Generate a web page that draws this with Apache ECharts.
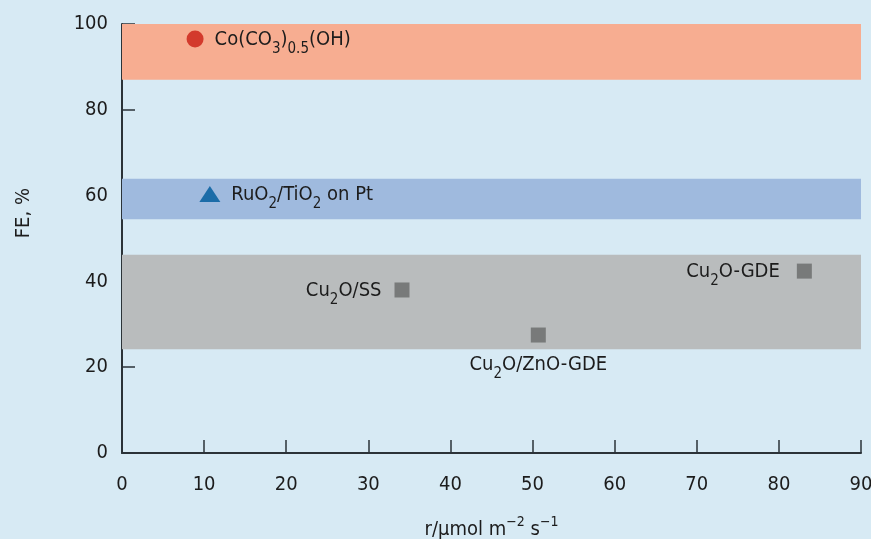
<!DOCTYPE html>
<html>
<head>
<meta charset="utf-8">
<script src="https://cdn.jsdelivr.net/npm/echarts@6/dist/echarts.min.js"></script>
<style>
html, body { margin: 0; padding: 0; background: #d7eaf4; }
#chart { width: 871px; height: 539px; }
</style>
</head>
<body>
<div id="chart"></div>
<script>
// catalyst points: rate r (umol m-2 s-1) vs faradaic efficiency FE (%)
const circleLabels = ['{n|Co(CO}{s|3}{n|)}{s|0.5}{n|(OH)}']
const circleRate = [8.9]
const circleFE = [96.5]

const triangleLabels = ['{n|RuO}{s|2}{n|/TiO}{s|2}{n| on Pt}']
const triangleRate = [10.7]
const triangleFE = [60.4]

const squareLabels = ['{n|Cu}{s|2}{n|O/SS}', '{n|Cu}{s|2}{n|O/ZnO-GDE}', '{n|Cu}{s|2}{n|O-GDE}']
const squareRate = [34.1, 50.7, 83.1]
const squareFE = [38.0, 27.5, 42.4]

// FE ranges shaded behind the points [from, to]
const bandOrange = [87, 100]
const bandBlue = [54.5, 63.9]
const bandGray = [24.2, 46.2]

const xTicks = [0, 90, 10]   // min, max, step
const yTicks = [0, 100, 20]

const FONT = '"DejaVu Sans Condensed", "DejaVu Sans", sans-serif'
const TXT = '#1c1c1c'

// tall line box so the small bottom-aligned pieces drop below the baseline
const rich = {
    n: { fontSize: 20, lineHeight: 34, color: TXT, fontFamily: FONT },
    s: { fontSize: 15, verticalAlign: 'bottom', color: TXT, fontFamily: FONT }
}

// label placement per square point
const squareLabelOpts = [
    { position: 'left', distance: 13, offset: [0, 1] },
    { position: 'bottom', distance: 5 },
    { position: 'left', distance: 17, offset: [0, 1] }
]

function points(rate, fe, labels, opts) {
    return rate.map(function(r, i) {
        const o = opts ? opts[i] : {}
        return {
            value: [r, fe[i]],
            label: Object.assign({ show: true, formatter: labels[i], rich: rich }, o)
        }
    })
}

const chart = echarts.init(document.getElementById('chart'))

chart.setOption({
    backgroundColor: '#d7eaf4',
    animation: false,
    grid: { left: 122, right: 10, top: 24, bottom: 86, outerBoundsMode: 'none', containLabel: false },
    xAxis: {
        type: 'value',
        min: xTicks[0],
        max: xTicks[1],
        interval: xTicks[2],
        name: '{t|r/μmol m}{p|−2}{t| s}{p|−1}',
        nameLocation: 'middle',
        nameGap: 62,
        nameTextStyle: {
            fontSize: 20, color: TXT, fontFamily: FONT,
            rich: {
                t: { fontSize: 20, lineHeight: 30, color: TXT, fontFamily: FONT },
                p: { fontSize: 14, verticalAlign: 'top', color: TXT, fontFamily: FONT }
            }
        },
        axisLine: { show: true, lineStyle: { color: '#2b3338', width: 2 } },
        axisTick: { show: true, inside: true, length: 13, lineStyle: { color: '#2b3338', width: 1.5 } },
        axisLabel: { fontSize: 20, color: TXT, fontFamily: FONT, margin: 22 },
        splitLine: { show: false }
    },
    yAxis: {
        type: 'value',
        min: yTicks[0],
        max: yTicks[1],
        interval: yTicks[2],
        axisLine: { show: true, lineStyle: { color: '#2b3338', width: 2 } },
        axisTick: { show: true, inside: true, length: 13, lineStyle: { color: '#2b3338', width: 1.5 } },
        axisLabel: { fontSize: 20, color: TXT, fontFamily: FONT, margin: 14 },
        splitLine: { show: false }
    },
    graphic: [{
        type: 'text',
        left: 14,
        top: 188,
        rotation: Math.PI / 2,
        style: { text: 'FE, %', fontSize: 20, fill: TXT, fontFamily: FONT }
    }],
    series: [
        {
            name: 'bands',
            type: 'scatter',
            data: [],
            z: 1,
            markArea: {
                silent: true,
                data: [
                    [{ yAxis: bandOrange[0], itemStyle: { color: '#f7ad91' } }, { yAxis: bandOrange[1] }],
                    [{ yAxis: bandBlue[0], itemStyle: { color: '#9fbade' } }, { yAxis: bandBlue[1] }],
                    [{ yAxis: bandGray[0], itemStyle: { color: '#b9bcbd' } }, { yAxis: bandGray[1] }]
                ]
            }
        },
        {
            name: 'circle',
            type: 'scatter',
            symbol: 'circle',
            symbolSize: 17,
            z: 3,
            itemStyle: { color: '#d33a2c', opacity: 1 },
            label: { position: 'right', distance: 11, offset: [0, 1] },
            data: points(circleRate, circleFE, circleLabels)
        },
        {
            name: 'triangle',
            type: 'scatter',
            symbol: 'triangle',
            symbolSize: [21, 16],
            z: 3,
            itemStyle: { color: '#1b6ca8', opacity: 1 },
            label: { position: 'right', distance: 11, offset: [0, 1] },
            data: points(triangleRate, triangleFE, triangleLabels)
        },
        {
            name: 'square',
            type: 'scatter',
            symbol: 'rect',
            symbolSize: 15,
            z: 3,
            itemStyle: { color: '#787a7a', opacity: 1 },
            data: points(squareRate, squareFE, squareLabels, squareLabelOpts)
        }
    ]
})
</script>
</body>
</html>
